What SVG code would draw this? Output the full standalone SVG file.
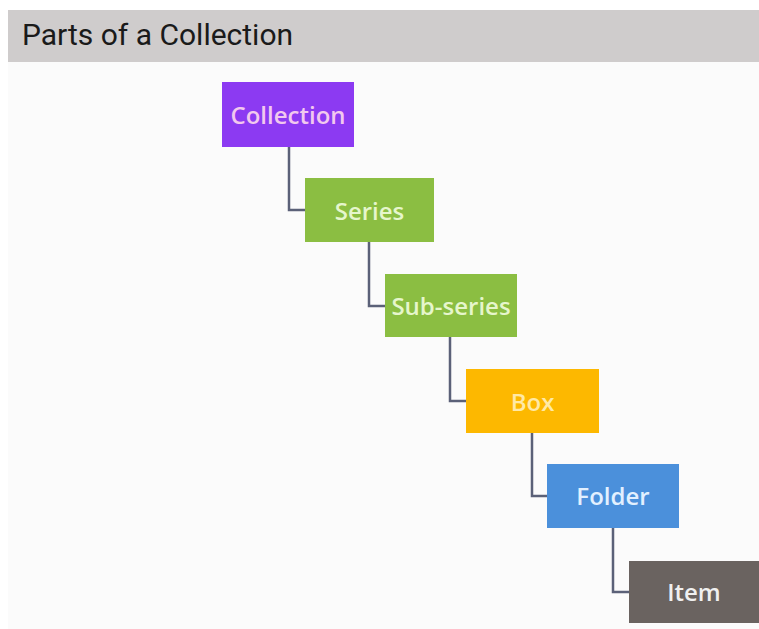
<svg xmlns="http://www.w3.org/2000/svg" width="759" height="629" viewBox="0 0 759 629">
<style>
.box{stroke:none}
.lbl{font-family:"Open Sans","Liberation Sans",sans-serif;font-size:24px;font-weight:600;text-anchor:middle;dominant-baseline:central}
.conn{fill:none;stroke:#5B6178;stroke-width:2.5}
</style>
<rect x="0" y="0" width="759" height="629" fill="#FFFFFF"/>
<rect x="8" y="62" width="751" height="567" fill="#FBFBFB"/>
<g id="header">
<rect x="8" y="10" width="751" height="52" fill="#CFCCCC"/>
<text x="22" y="45" font-family="Roboto,'Liberation Sans',sans-serif" font-size="30" fill="#1A1A1A">Parts of a Collection</text>
</g>
<g id="connectors">
<path class="conn" d="M289,147 V210 H305"/>
<path class="conn" d="M369,242 V306 H385"/>
<path class="conn" d="M450,337 V401 H466"/>
<path class="conn" d="M532,433 V496 H547"/>
<path class="conn" d="M613,528 V592 H629"/>
</g>
<g id="collection">
<rect class="box" x="222" y="82" width="132" height="65" fill="#8C3AF2"/>
<text class="lbl" x="288" y="114" fill="#F2C8EE">Collection</text>
</g>
<g id="series">
<rect class="box" x="305" y="178" width="129" height="64" fill="#8BBE42"/>
<text class="lbl" x="369.5" y="210" fill="#E6F6CC">Series</text>
</g>
<g id="subseries">
<rect class="box" x="385" y="274" width="132" height="63" fill="#8BBE42"/>
<text class="lbl" x="451" y="305" fill="#E6F6CC">Sub-series</text>
</g>
<g id="box">
<rect class="box" x="466" y="369" width="133" height="64" fill="#FDB800"/>
<text class="lbl" x="532.5" y="401" fill="#FFE9A6">Box</text>
</g>
<g id="folder">
<rect class="box" x="547" y="464" width="132" height="64" fill="#4B90DB"/>
<text class="lbl" x="613" y="495" fill="#E2F0FF">Folder</text>
</g>
<g id="item">
<rect class="box" x="629" y="561" width="130" height="62" fill="#6A6360"/>
<text class="lbl" x="694" y="591" fill="#F0F0F0">Item</text>
</g>
</svg>
